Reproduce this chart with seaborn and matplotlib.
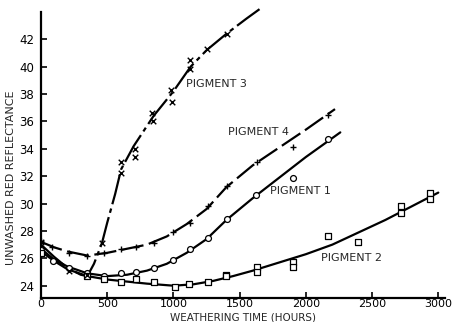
import numpy as np
import matplotlib
matplotlib.use("Agg")
import matplotlib.pyplot as plt
import seaborn as sns
import pandas as pd

# measured points (hours, reflectance)
p1_hours = [0, 90, 210, 350, 475, 605, 720, 850, 1000, 1125, 1260, 1405, 1625, 1905, 2170]
p1_vals = [26.6, 25.8, 25.3, 24.9, 24.7, 24.9, 25.0, 25.3, 25.9, 26.7, 27.5, 28.9, 30.6, 31.9, 34.7]

p2_hours = [0, 350, 475, 605, 720, 850, 1010, 1120, 1260, 1400, 1400, 1630, 1630, 1900, 1900,
            2170, 2390, 2715, 2715, 2935, 2935]
p2_vals = [26.4, 24.7, 24.5, 24.3, 24.5, 24.3, 23.9, 24.1, 24.3, 24.8, 24.7, 25.4, 25.0, 25.7, 25.4,
           27.6, 27.2, 29.8, 29.3, 30.8, 30.3]

p3_hours = [0, 210, 350, 460, 605, 605, 710, 710, 840, 847, 983, 990, 1126, 1126, 1255, 1406]
p3_vals = [27.2, 25.1, 24.8, 27.1, 33.0, 32.2, 34.0, 33.4, 36.6, 36.0, 38.3, 37.4, 40.5, 39.8, 41.3, 42.4]

p4_hours = [0, 85, 210, 350, 475, 605, 720, 850, 1000, 1125, 1260, 1405, 1630, 1905, 2170]
p4_vals = [27.3, 26.8, 26.4, 26.2, 26.4, 26.7, 26.8, 27.1, 27.9, 28.6, 29.8, 31.3, 33.0, 34.1, 36.5]

# hand-drawn fitted curves
c1_hours = [0, 100, 200, 350, 500, 650, 800, 950, 1100, 1250, 1400, 1600, 1800, 2000, 2260]
c1_vals = [26.7, 25.9, 25.4, 24.9, 24.7, 24.8, 25.1, 25.6, 26.4, 27.4, 28.8, 30.4, 31.9, 33.4, 35.2]

c2_hours = [0, 100, 200, 350, 500, 650, 800, 1000, 1150, 1300, 1450, 1600, 1800, 2000, 2200,
            2400, 2600, 2800, 3000]
c2_vals = [26.5, 25.8, 25.2, 24.7, 24.45, 24.3, 24.15, 24.0, 24.1, 24.35, 24.7, 25.1, 25.7, 26.3,
           27.0, 27.9, 28.8, 29.8, 30.8]

c3_hours = [0, 100, 200, 300, 350, 400, 460, 500, 560, 605, 700, 850, 1000, 1130, 1250, 1400, 1550, 1650]
c3_vals = [27.0, 26.1, 25.3, 24.8, 24.7, 25.6, 27.1, 28.6, 30.7, 32.5, 34.2, 36.4, 38.2, 40.0, 41.2,
           42.4, 43.5, 44.2]

c4_hours = [0, 100, 200, 350, 500, 650, 800, 950, 1100, 1250, 1400, 1600, 1800, 2000, 2220]
c4_vals = [27.2, 26.8, 26.5, 26.2, 26.4, 26.7, 27.0, 27.6, 28.5, 29.6, 31.2, 32.8, 34.1, 35.4, 36.9]

labels = ["PIGMENT 1", "PIGMENT 2", "PIGMENT 3", "PIGMENT 4"]
label_pos = [(1731, 30.9), (2116, 26.05), (1096, 38.75), (1413, 35.2)]

sns.set_style("ticks")
plt.rcParams["font.family"] = ["DejaVu Sans"]

fig = plt.figure(figsize=(4.54, 3.22), dpi=100)
ax = fig.add_axes([0.0903, 0.0745, 0.8897, 0.8885])

sns.lineplot(x=c1_hours, y=c1_vals, ax=ax, color="black", lw=1.6, sort=False)
sns.lineplot(x=c2_hours, y=c2_vals, ax=ax, color="black", lw=1.6, sort=False)
sns.lineplot(x=c3_hours, y=c3_vals, ax=ax, color="black", lw=1.6, sort=False)
sns.lineplot(x=c4_hours, y=c4_vals, ax=ax, color="black", lw=1.6, sort=False)
ax.lines[2].set_dashes((14, 2, 2, 2))
ax.lines[2].set_clip_on(False)
ax.lines[3].set_dashes((10, 2.5))

sns.scatterplot(x=p1_hours, y=p1_vals, ax=ax, marker="o", s=18, facecolor="white",
                edgecolor="black", linewidth=0.9, zorder=3)
sns.scatterplot(x=p2_hours, y=p2_vals, ax=ax, marker="s", s=16, facecolor="white",
                edgecolor="black", linewidth=0.9, zorder=3)
sns.scatterplot(x=p3_hours, y=p3_vals, ax=ax, marker="x", s=16, color="black",
                linewidth=1.0, zorder=3)
sns.scatterplot(x=p4_hours, y=p4_vals, ax=ax, marker="+", s=20, color="black",
                linewidth=1.0, zorder=3)

for txt, (lx, ly) in zip(labels, label_pos):
    ax.text(lx, ly, txt, fontsize=8, va="center", ha="left")

ax.set_xlim(0, 3050)
ax.set_ylim(23.1, 44.0)
ax.set_xticks([0, 500, 1000, 1500, 2000, 2500, 3000])
ax.set_yticks(range(24, 43, 2))
ax.tick_params(axis="both", direction="in", length=4, width=1.2, labelsize=8.5, colors="black")
ax.tick_params(axis="y", pad=5)
ax.tick_params(axis="x", pad=1, labelsize=8)
for side in ["left", "bottom"]:
    ax.spines[side].set_linewidth(1.6)
    ax.spines[side].set_color("black")
sns.despine(ax=ax)

ax.set_xlabel("WEATHERING TIME (HOURS)", fontsize=7.5, labelpad=0)
ax.set_ylabel("UNWASHED RED REFLECTANCE", fontsize=8, labelpad=3)
ax.xaxis.set_label_coords(0.5, -0.05)
ax.yaxis.set_label_coords(-0.062, 0.42)

fig.savefig("out.png", dpi=100)
